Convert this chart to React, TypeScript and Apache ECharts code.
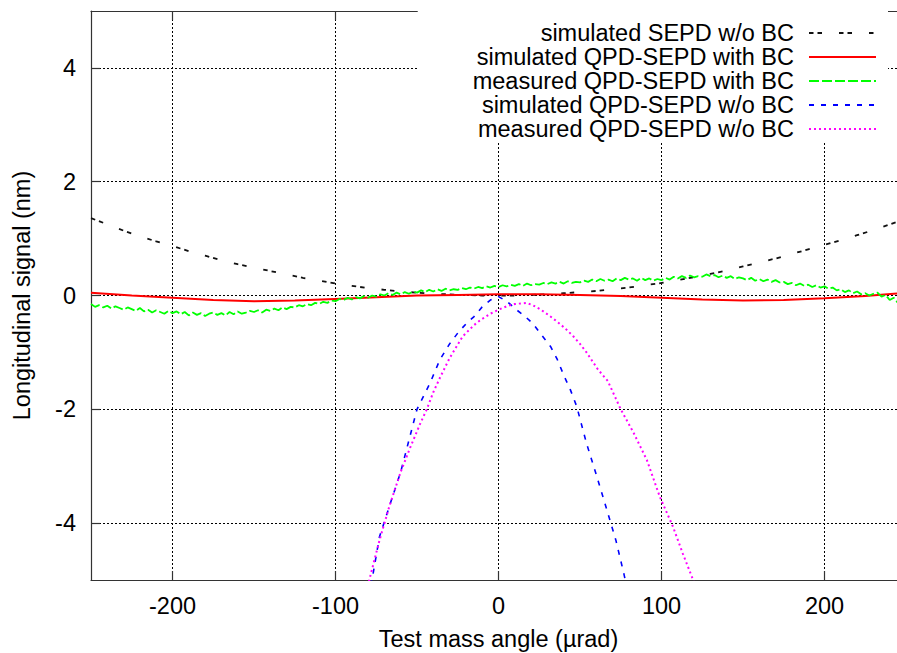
import React, { useEffect, useRef } from "react";
import * as echarts from "echarts";

const FONT = "Liberation Sans, Arial, sans-serif";

const xTicks = [-200, -100, 0, 100, 200];
const yTicks = [-4, -2, 0, 2, 4];

const seriesNames = [
  "simulated SEPD w/o BC",
  "simulated QPD-SEPD with BC",
  "measured QPD-SEPD with BC",
  "simulated QPD-SEPD w/o BC",
  "measured QPD-SEPD w/o BC",
];

// simulated SEPD w/o BC
const sepdX = [-250, -240, -230, -220, -210, -200, -190, -180, -170, -160, -150, -140, -130, -120, -110, -100, -90, -80, -70, -60, -50, -40, -30, -20, -10, 0, 10, 20, 30, 40, 50, 60, 70, 80, 90, 100, 110, 120, 130, 140, 150, 160, 170, 180, 190, 200, 210, 220, 230, 240, 250];
const sepdY = [1.36, 1.25, 1.14, 1.04, 0.95, 0.87, 0.78, 0.7, 0.62, 0.55, 0.49, 0.43, 0.37, 0.31, 0.26, 0.21, 0.17, 0.13, 0.1, 0.07, 0.05, 0.03, 0.02, 0.01, 0.0, 0.0, 0.0, 0.01, 0.02, 0.04, 0.06, 0.08, 0.11, 0.14, 0.18, 0.22, 0.27, 0.32, 0.38, 0.44, 0.51, 0.58, 0.65, 0.73, 0.81, 0.89, 0.97, 1.06, 1.15, 1.25, 1.35];

// simulated QPD-SEPD with BC
const bcSimX = [-250, -225, -200, -175, -150, -125, -100, -75, -50, -25, 0, 25, 50, 75, 100, 125, 150, 175, 200, 225, 250];
const bcSimY = [0.05, 0.0, -0.04, -0.08, -0.1, -0.09, -0.06, -0.03, 0.0, 0.01, 0.02, 0.02, 0.01, -0.01, -0.04, -0.07, -0.09, -0.08, -0.05, -0.01, 0.05];

// measured QPD-SEPD with BC (sampled every 2.5 µrad from -250 to 250)
const bcMeasStart = -250;
const bcMeasStep = 2.5;
const bcMeasY = [
  -0.15, -0.2, -0.17, -0.21, -0.18, -0.23, -0.19, -0.22, -0.25, -0.21,
  -0.24, -0.27, -0.22, -0.28, -0.25, -0.3, -0.26, -0.29, -0.32, -0.27,
  -0.31, -0.28, -0.33, -0.29, -0.35, -0.3, -0.34, -0.31, -0.36, -0.32,
  -0.3, -0.34, -0.31, -0.35, -0.29, -0.33, -0.28, -0.32, -0.3, -0.27,
  -0.29, -0.26, -0.3, -0.25, -0.27, -0.23, -0.26, -0.21, -0.24, -0.2,
  -0.21, -0.17, -0.19, -0.15, -0.17, -0.13, -0.15, -0.11, -0.13, -0.09,
  -0.1, -0.06, -0.08, -0.04, -0.07, -0.03, -0.05, -0.01, -0.04, 0.0,
  -0.02, 0.02, 0.0, 0.04, 0.01, 0.05, 0.02, 0.06, 0.03, 0.07,
  0.05, 0.09, 0.06, 0.1, 0.07, 0.11, 0.08, 0.12, 0.09, 0.11,
  0.1, 0.13, 0.11, 0.14, 0.12, 0.15, 0.13, 0.16, 0.14, 0.17,
  0.15, 0.18, 0.16, 0.19, 0.17, 0.2, 0.17, 0.21, 0.18, 0.2,
  0.19, 0.22, 0.2, 0.23, 0.21, 0.24, 0.21, 0.25, 0.22, 0.24,
  0.23, 0.26, 0.24, 0.28, 0.25, 0.29, 0.26, 0.28, 0.25, 0.3,
  0.27, 0.31, 0.28, 0.3, 0.26, 0.31, 0.27, 0.3, 0.26, 0.29,
  0.27, 0.31, 0.28, 0.33, 0.3, 0.34, 0.31, 0.35, 0.32, 0.34,
  0.33, 0.37, 0.34, 0.36, 0.32, 0.35, 0.31, 0.34, 0.29, 0.32,
  0.3, 0.27, 0.31, 0.26, 0.29, 0.25, 0.28, 0.24, 0.27, 0.23,
  0.24, 0.2, 0.22, 0.18, 0.21, 0.17, 0.19, 0.15, 0.18, 0.14,
  0.16, 0.12, 0.14, 0.09, 0.11, 0.06, 0.09, 0.04, 0.07, 0.02,
  0.04, 0.0, 0.03, 0.05, -0.02, 0.01, -0.08, -0.04, -0.13, -0.09,
  -0.16,
];

// simulated QPD-SEPD w/o BC
const noBcSimX = [-80, -77, -73, -67, -60, -56, -50, -42, -36, -30, -25, -20, -15, -10, -5, 0, 5, 11, 16, 21, 26, 32, 36, 40, 44, 48, 54, 60, 66, 72, 77, 80];
const noBcSimY = [-5.3, -4.9, -4.24, -3.71, -3.1, -2.66, -2.0, -1.54, -1.13, -0.85, -0.66, -0.5, -0.37, -0.2, -0.08, -0.02, -0.1, -0.25, -0.36, -0.49, -0.68, -0.9, -1.12, -1.4, -1.65, -1.95, -2.6, -3.15, -3.72, -4.3, -4.9, -5.3];

// measured QPD-SEPD w/o BC
const noBcMeasX = [-81, -79, -73, -67, -60, -54, -48, -44, -40, -36, -30, -22, -15, -11, -5, 0, 5, 10, 17, 21, 26, 31, 36, 41, 46, 50, 54, 61, 67, 75, 83, 91, 99, 107, 113, 119, 121];
const noBcMeasY = [-5.2, -4.97, -4.3, -3.71, -3.1, -2.66, -2.25, -2.0, -1.7, -1.45, -1.1, -0.72, -0.52, -0.43, -0.32, -0.25, -0.19, -0.15, -0.13, -0.17, -0.25, -0.35, -0.46, -0.58, -0.72, -0.85, -1.0, -1.3, -1.5, -2.0, -2.42, -2.89, -3.54, -4.06, -4.53, -4.97, -5.15];

const zip = (xs: number[], ys: number[]) => xs.map((x, i) => [x, ys[i]]);
const bcMeasData = bcMeasY.map((y, i) => [bcMeasStart + i * bcMeasStep, y]);

const textBase = { fontFamily: FONT, color: "#000", fontSize: 23.5 };
const frameLine = { color: "#333", width: 1.2 };
const gridLine = { color: "#000", width: 1, type: [2, 2] as number[] };

export default function App() {
  const ref = useRef<HTMLDivElement>(null);
  useEffect(() => {
    if (!ref.current) return;
    const chart = echarts.init(ref.current, undefined, { renderer: "svg" });
    const mk = (name: string, data: number[][], color: string, width: number, type: any) => ({
      name,
      type: "line",
      data,
      symbol: "none",
      showSymbol: false,
      clip: true,
      lineStyle: { color, width, type },
      itemStyle: { color },
      emphasis: { disabled: true },
    });
    chart.setOption({
      animation: false,
      backgroundColor: "#fff",
      grid: { left: 91, top: 11, right: -9, bottom: 73, outerBoundsMode: "none", containLabel: false },
      legend: {
        orient: "vertical",
        right: 9,
        top: 11,
        align: "right",
        itemWidth: 67,
        itemHeight: 10,
        itemGap: 0,
        padding: [10, 11, 2, 55],
        backgroundColor: "#fff",
        selectedMode: false,
        itemStyle: { opacity: 0, borderWidth: 0 },
        textStyle: { ...textBase, lineHeight: 23.5, padding: [0, 10, 0, 0] },
        data: seriesNames,
      },
      xAxis: [
        {
          type: "value",
          min: -250,
          max: 250,
          position: "bottom",
          name: "Test mass angle (µrad)",
          nameLocation: "middle",
          nameGap: 47,
          nameTextStyle: textBase,
          axisLine: { show: true, onZero: false, lineStyle: frameLine },
          axisTick: { show: true, inside: true, length: 9, customValues: xTicks, lineStyle: frameLine },
          axisLabel: { ...textBase, margin: 14, customValues: xTicks },
          splitLine: { show: true, lineStyle: gridLine },
        },
        {
          type: "value",
          min: -250,
          max: 250,
          position: "top",
          axisLine: { show: true, onZero: false, lineStyle: frameLine },
          axisTick: { show: true, inside: true, length: 9, customValues: xTicks, lineStyle: frameLine },
          axisLabel: { show: false },
          splitLine: { show: false },
        },
      ],
      yAxis: {
        type: "value",
        min: -5,
        max: 5,
        name: "Longitudinal signal (nm)",
        nameLocation: "middle",
        nameGap: 57,
        nameTextStyle: textBase,
        axisLine: { show: true, onZero: false, lineStyle: frameLine },
        axisTick: { show: true, inside: true, length: 9, customValues: yTicks, lineStyle: frameLine },
        axisLabel: { ...textBase, margin: 15, customValues: yTicks },
        splitLine: { show: true, lineStyle: gridLine },
      },
      series: [
        mk(seriesNames[0], zip(sepdX, sepdY), "#111111", 1.8, [4.5, 4, 4.5, 17]),
        mk(seriesNames[1], zip(bcSimX, bcSimY), "#ff0000", 2, "solid"),
        mk(seriesNames[2], bcMeasData, "#00ff00", 1.8, [10, 3]),
        mk(seriesNames[3], zip(noBcSimX, noBcSimY), "#0000ff", 1.6, [5, 7]),
        mk(seriesNames[4], zip(noBcMeasX, noBcMeasY), "#ff00ff", 2, [2, 3]),
      ],
    });
    return () => chart.dispose();
  }, []);
  return (
    <div
      ref={ref}
      style={{ position: "fixed", left: 0, top: 0, width: 897, height: 653 }}
    />
  );
}
